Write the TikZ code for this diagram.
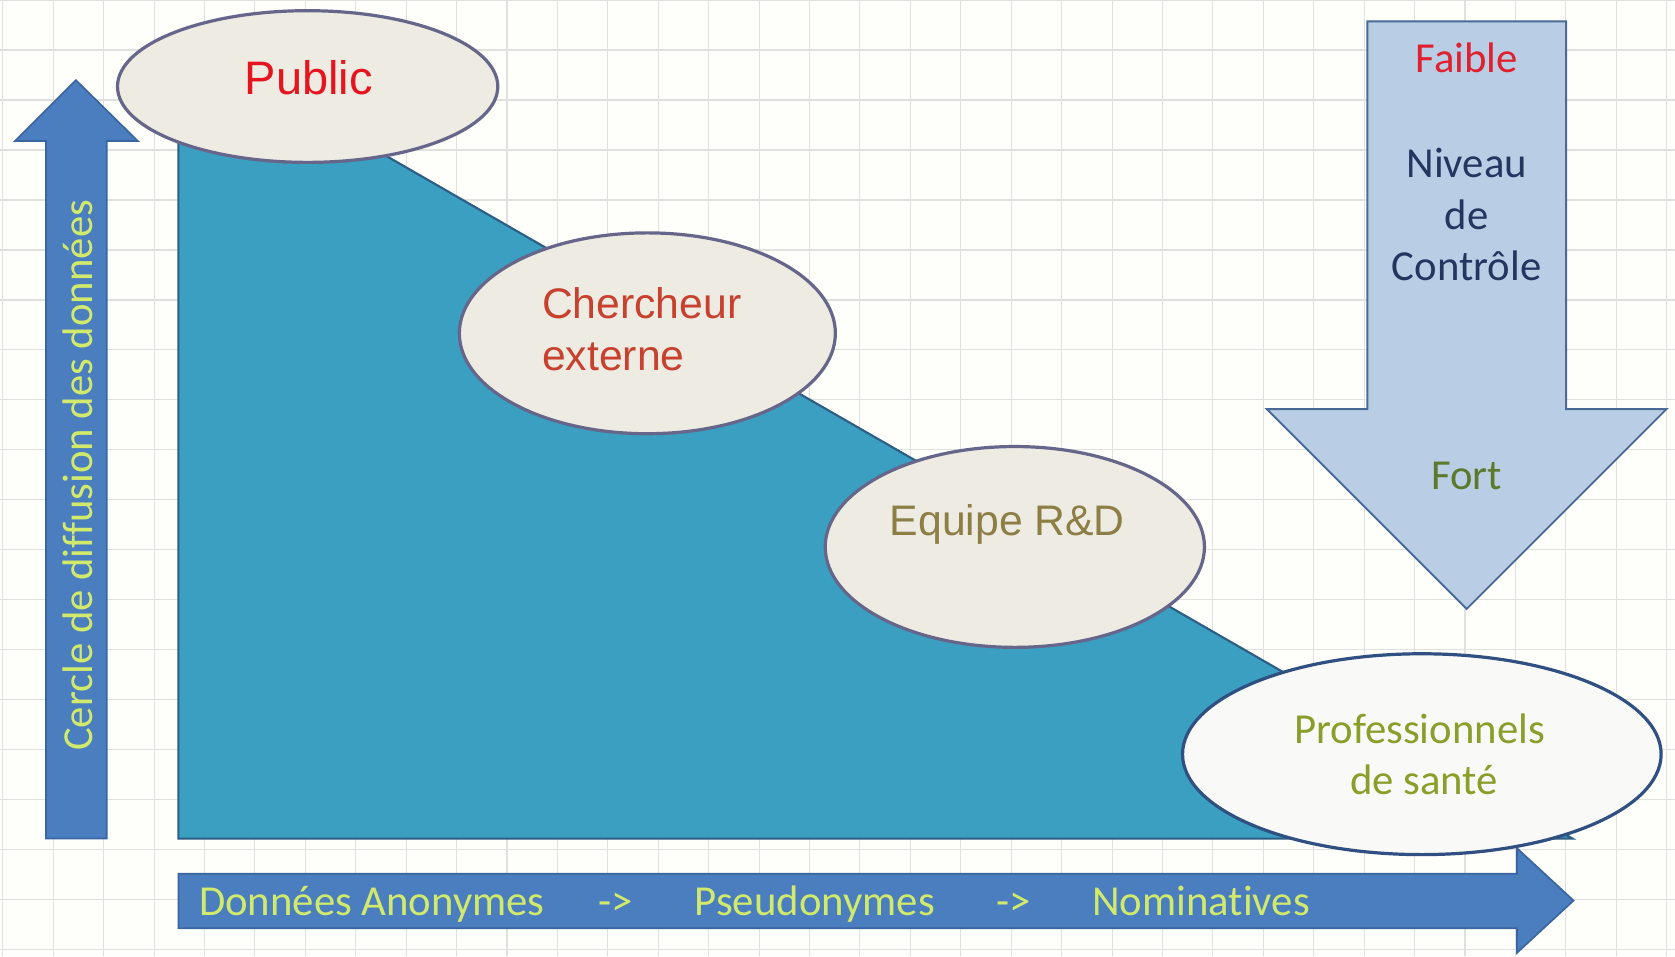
\documentclass[tikz,border=0pt]{standalone}
\usepackage{fontspec}
\setmainfont{Carlito}[Ligatures={NoCommon}]
\newfontfamily\arialf{Liberation Sans}
\usetikzlibrary{shapes.geometric,calc}
\definecolor{bgc}{HTML}{FEFEFB}
\definecolor{gridc}{HTML}{E0E0DE}
\definecolor{tealc}{HTML}{3A9FC0}
\definecolor{tealb}{HTML}{2C5E86}
\definecolor{bluef}{HTML}{4A7EBF}
\definecolor{blueb}{HTML}{3A66A0}
\definecolor{lbluef}{HTML}{B9CDE5}
\definecolor{lblueb}{HTML}{4A6A95}
\definecolor{ellf}{HTML}{EEEBE3}
\definecolor{ellb}{HTML}{66668A}
\definecolor{proff}{HTML}{F9F9F8}
\definecolor{profb}{HTML}{2F5080}
\definecolor{axtxt}{HTML}{D2EA6C}
\definecolor{pubred}{HTML}{E5141E}
\definecolor{chred}{HTML}{C8402E}
\definecolor{eqc}{HTML}{8C7E45}
\definecolor{profc}{HTML}{8A9E2A}
\definecolor{fortc}{HTML}{5B7A2B}
\definecolor{faiblec}{HTML}{E0202E}
\definecolor{navyc}{HTML}{243660}
\begin{document}
\begin{tikzpicture}[x=0.5pt,y=-0.5pt,
  ellbox/.style={ellipse, draw=ellb, fill=ellf, line width=1.5pt, inner sep=0pt},
  profbox/.style={ellipse, draw=profb, fill=proff, line width=1.5pt, inner sep=0pt},
  txt/.style={inner sep=0pt, anchor=base, font=\fontsize{20}{24}\selectfont},
  atxt/.style={inner sep=0pt, anchor=base, font=\arialf\fontsize{20}{24}\selectfont},
  bigarrow/.style={fill=bluef, draw=blueb, line width=0.8pt, line join=miter}]
\useasboundingbox (0,0) rectangle (1568,895);
\fill[bgc] (0,0) rectangle (1568,895);
\foreach \i in {0,...,33} \draw[gridc, line width=0.5pt] ({2.6+47.2*\i},0) -- ({2.6+47.2*\i},895);
\foreach \j in {0,...,19} \draw[gridc, line width=0.5pt] (0,{46.8*\j}) -- (1568,{46.8*\j});
% triangle
\draw[fill=tealc, draw=tealb, line width=1pt] (167,34) -- (167,785) -- (1472,785) -- cycle;
% up arrow
\draw[bigarrow] (43,785) -- (43,132) -- (14,132) -- (71,75) -- (129,132) -- (100,132) -- (100,785) -- cycle;
\node[txt, anchor=center, rotate=90, text=axtxt] (ylab) at (73,445) {Cercle de diffusion des données};
% bottom arrow
\draw[bigarrow] (167,818) -- (1420,818) -- (1420,794) -- (1473,843) -- (1420,892) -- (1420,869) -- (167,869) -- cycle;
\node[txt, anchor=base west, text=axtxt] (ax1) at (186,857) {Données Anonymes};
\node[txt, anchor=base west, text=axtxt] (ax2) at (560,857) {->};
\node[txt, anchor=base west, text=axtxt] (ax3) at (650,857) {Pseudonymes};
\node[txt, anchor=base west, text=axtxt] (ax4) at (932,857) {->};
\node[txt, anchor=base west, text=axtxt] (ax5) at (1022,857) {Nominatives};
% down arrow
\draw[fill=lbluef, draw=lblueb, line width=0.9pt] (1280,20) -- (1466,20) -- (1466,383) -- (1560,383) -- (1373,570) -- (1186,383) -- (1280,383) -- cycle;
\node[txt, text=faiblec] (faible) at (1373,68) {Faible};
\node[txt, text=navyc] (niv1) at (1373,166) {Niveau};
\node[txt, text=navyc] (niv2) at (1373,215) {de};
\node[txt, text=navyc] (niv3) at (1373,263) {Contrôle};
\node[txt, text=fortc] (fort) at (1373,458) {Fort};
% ellipses
\node[ellbox, minimum width=178pt, minimum height=71pt] (pub) at (288,81) {};
\node[ellbox, minimum width=176pt, minimum height=94pt] (cher) at (606,312) {};
\node[ellbox, minimum width=177.5pt, minimum height=94pt] (equ) at (950,512) {};
\node[profbox, minimum width=224pt, minimum height=94pt] (prof) at (1331,706) {};
\node[atxt, text=pubred, font=\arialf\fontsize{22}{26}\selectfont] (tpub) at (289,88) {Public};
\node[atxt, anchor=base west, text=chred] (tch1) at (507,298) {Chercheur};
\node[atxt, anchor=base west, text=chred] (tch2) at (507,347) {externe};
\node[atxt, text=eqc] (teq) at (943,501) {Equipe R\&D};
\node[txt, text=profc] (tpr1) at (1329,696) {Professionnels};
\node[txt, text=profc] (tpr2) at (1333,744) {de santé};
\end{tikzpicture}
\end{document}
